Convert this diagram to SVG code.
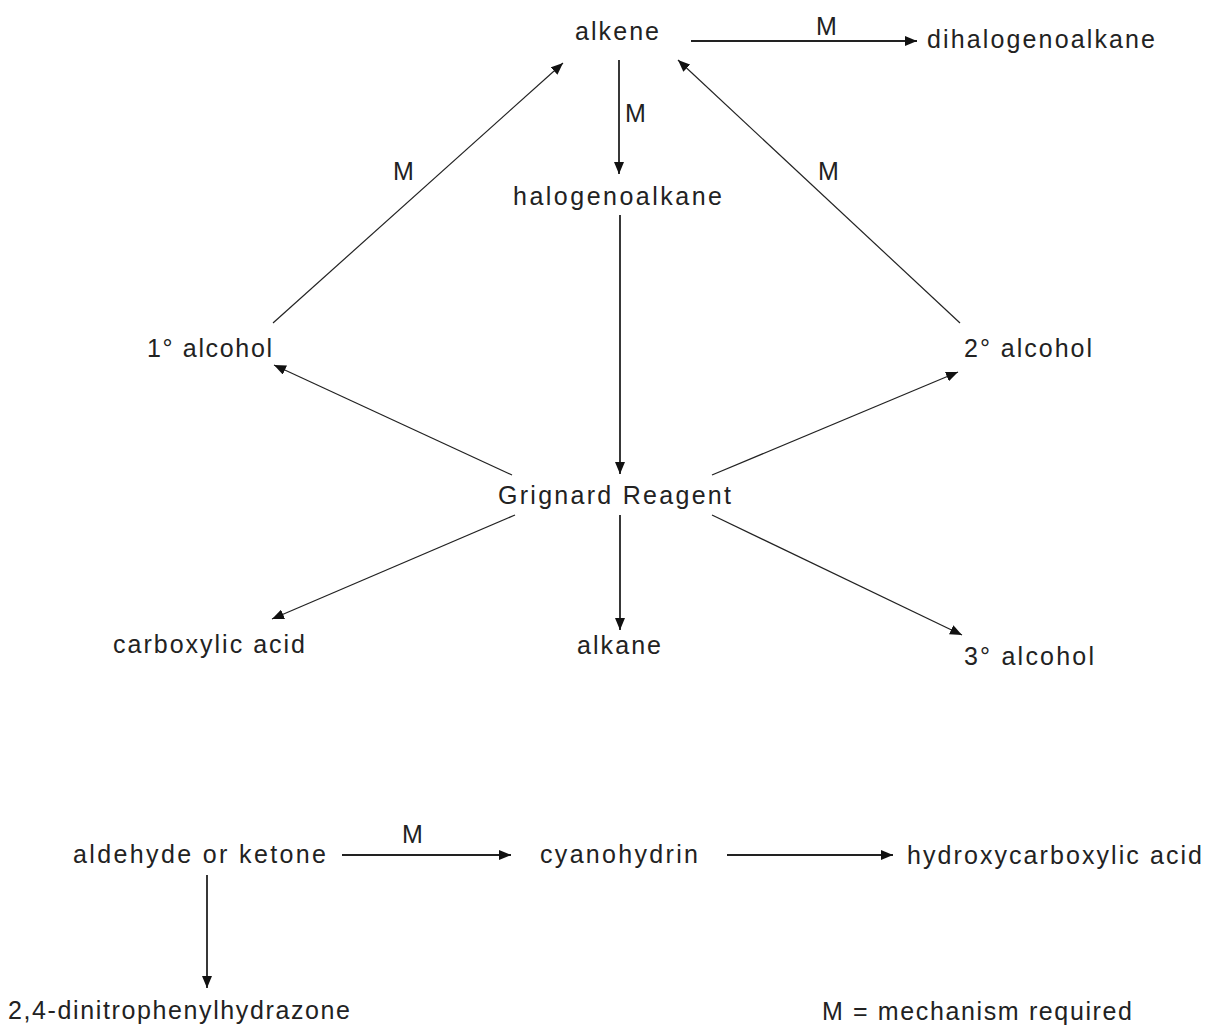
<svg xmlns="http://www.w3.org/2000/svg" width="1206" height="1026" viewBox="0 0 1206 1026">
<style>
text{font-family:"Liberation Sans",Arial,sans-serif;font-size:25px;fill:#222}
.c line{stroke:#222;stroke-width:1.8;fill:none;marker-end:url(#ah)}
.c line.d{stroke-width:1.2}
</style>
<defs>
<marker id="ah" markerUnits="userSpaceOnUse" markerWidth="12" markerHeight="10" refX="12" refY="5" orient="auto">
<path d="M0,0 L12,5 L0,10 z" fill="#111"/>
</marker>
</defs>
<rect width="1206" height="1026" fill="#fff"/>
<g class="c" id="connectors">
<line x1="691" y1="41" x2="917" y2="41"/>
<line x1="619" y1="60" x2="619" y2="174"/>
<line class="d" x1="273" y1="323" x2="563" y2="63"/>
<line class="d" x1="960" y1="323" x2="678" y2="60"/>
<line x1="620" y1="215" x2="620" y2="474"/>
<line class="d" x1="512" y1="475" x2="274" y2="365"/>
<line class="d" x1="712" y1="475" x2="958" y2="372"/>
<line class="d" x1="515" y1="515" x2="272" y2="619"/>
<line x1="620" y1="515" x2="620" y2="630"/>
<line class="d" x1="712" y1="515" x2="962" y2="635"/>
<line x1="342" y1="855" x2="511" y2="855"/>
<line x1="727" y1="855" x2="893" y2="855"/>
<line x1="207" y1="875" x2="207" y2="988"/>
<g id="labels">
<text x="816" y="35">M</text>
<text x="625" y="122">M</text>
<text x="818" y="180">M</text>
<text x="393" y="180">M</text>
<text x="402" y="843">M</text>
</g>
</g>
<g id="alkene"><text x="575" y="40" textLength="84">alkene</text></g>
<g id="dihalogenoalkane"><text x="927" y="48" textLength="228">dihalogenoalkane</text></g>
<g id="halogenoalkane"><text x="513" y="205" textLength="209">halogenoalkane</text></g>
<g id="alcohol1"><text x="147" y="357" textLength="125">1° alcohol</text></g>
<g id="alcohol2"><text x="964" y="357" textLength="128">2° alcohol</text></g>
<g id="grignard"><text x="498" y="504" textLength="233">Grignard Reagent</text></g>
<g id="carboxylic"><text x="113" y="653" textLength="192">carboxylic acid</text></g>
<g id="alkane"><text x="577" y="654" textLength="84">alkane</text></g>
<g id="alcohol3"><text x="964" y="665" textLength="130">3° alcohol</text></g>
<g id="aldehyde"><text x="73" y="863" textLength="253">aldehyde or ketone</text></g>
<g id="cyanohydrin"><text x="540" y="863" textLength="158">cyanohydrin</text></g>
<g id="hydroxy"><text x="907" y="864" textLength="295">hydroxycarboxylic acid</text></g>
<g id="dnph"><text x="8" y="1019" textLength="342">2,4-dinitrophenylhydrazone</text></g>
<g id="legend"><text x="822" y="1020" textLength="310">M = mechanism required</text></g>
</svg>
